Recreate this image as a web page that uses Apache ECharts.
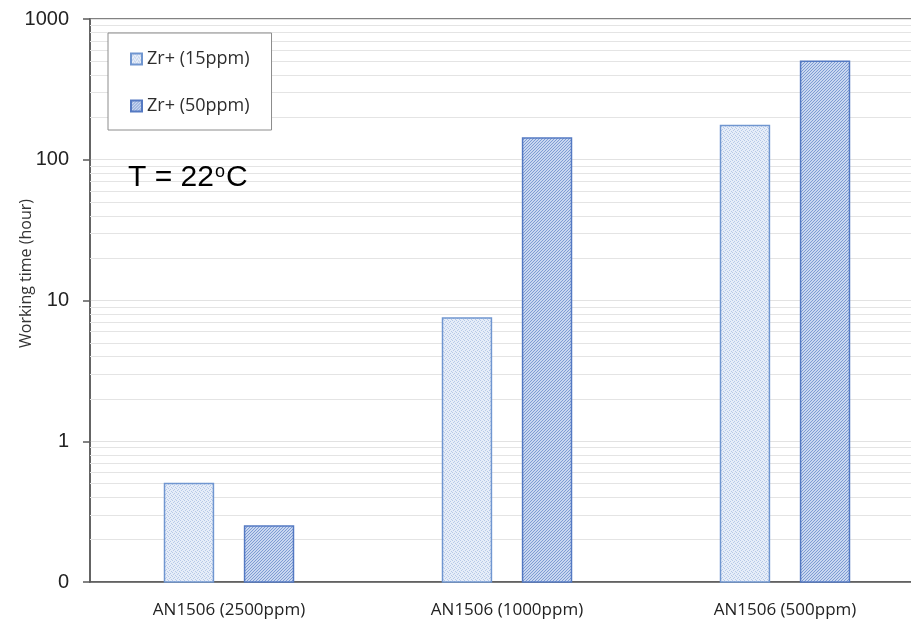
<!DOCTYPE html>
<html>
<head>
<meta charset="utf-8">
<script src="https://cdn.jsdelivr.net/npm/echarts@6/dist/echarts.min.js"></script>
<style>
html, body { margin: 0; padding: 0; background: #ffffff; }
#chart { width: 911px; height: 624px; }
</style>
</head>
<body>
<div id="chart"></div>
<script>
// Working time of each formulation, grouped by AN1506 level
const categories = ['AN1506 (2500ppm)', 'AN1506 (1000ppm)', 'AN1506 (500ppm)'];
const seriesNames = ['Zr+ (15ppm)', 'Zr+ (50ppm)'];
const zr15 = [0.5, 7.5, 175];
const zr50 = [0.25, 143, 500];
// Decade ticks of the log axis (the lowest one is printed as "0")
const yTicks = [0.1, 1, 10, 100, 1000];

// Minor grid lines at 2..9 within every decade
const minorLines = [];
yTicks.slice(0, -1).forEach(function (d) {
  for (let k = 2; k <= 9; k++) minorLines.push(d * k);
});

// Fill patterns for the two series
function speckle() {
  const c = document.createElement('canvas');
  c.width = 4; c.height = 4;
  const ctx = c.getContext('2d');
  ctx.fillStyle = '#e6edf8';
  ctx.fillRect(0, 0, 4, 4);
  ctx.fillStyle = '#b7c9e8';
  [[0, 0], [2, 1], [1, 2], [3, 3]].forEach(function (p) { ctx.fillRect(p[0], p[1], 1, 1); });
  return c;
}
function hatch() {
  const c = document.createElement('canvas');
  c.width = 3; c.height = 3;
  const ctx = c.getContext('2d');
  ctx.fillStyle = '#c9d7f0';
  ctx.fillRect(0, 0, 3, 3);
  ctx.fillStyle = '#7e9cd3';
  for (let i = 0; i < 3; i++) {
    ctx.fillRect(i, 2 - i, 1, 1);
  }
  return c;
}

const fill15 = { image: speckle(), repeat: 'repeat' };
const fill50 = { image: hatch(), repeat: 'repeat' };
const stroke15 = '#7096d0';
const stroke50 = '#5479c2';

// Bars rise from the bottom of the log axis; width and offset follow the category band
function barRenderer(side, fill, stroke) {
  return function (params, api) {
    const ci = api.value(0);
    const top = api.coord([ci, api.value(1)]);
    const base = api.coord([ci, yTicks[0]]);
    const band = api.size([1, 0])[0];
    const w = band * 0.176;
    const cx = top[0] + side * band * 0.144;
    return {
      type: 'rect',
      shape: { x: cx - w / 2, y: top[1], width: w, height: base[1] - top[1] },
      style: { fill: fill, stroke: stroke, lineWidth: 1.5 }
    };
  };
}

const labelFont = '"Open Sans", sans-serif';
const numFont = '"Liberation Sans", Arial, sans-serif';
const chart = echarts.init(document.getElementById('chart'));

chart.setOption({
  animation: false,
  grid: {
    left: 90, top: 19, width: 834, height: 563,
    outerBoundsMode: 'none',
    containLabel: false,
    show: true, borderColor: '#5a5a5a', borderWidth: 1.5,
    backgroundColor: 'transparent'
  },
  legend: {
    data: seriesNames,
    orient: 'vertical',
    left: 108, top: 33,
    itemWidth: 11, itemHeight: 11, itemGap: 29,
    padding: [17, 22, 15, 22],
    borderColor: '#8c8c8c', borderWidth: 1,
    backgroundColor: '#ffffff',
    icon: 'rect',
    textStyle: { fontFamily: labelFont, fontSize: 18, color: '#2e2e2e' }
  },
  xAxis: {
    type: 'category',
    data: categories,
    axisLine: { lineStyle: { color: '#5a5a5a', width: 1.5 } },
    axisTick: { show: false },
    axisLabel: { fontFamily: labelFont, fontSize: 17, color: '#222222', margin: 20 }
  },
  yAxis: {
    type: 'log',
    logBase: 10,
    min: yTicks[0],
    max: yTicks[yTicks.length - 1],
    name: 'Working time (hour)',
    nameLocation: 'middle',
    nameGap: 56,
    nameMoveOverlap: false,
    nameTextStyle: { fontFamily: labelFont, fontSize: 16, color: '#333333', padding: [0, 0, 0, 54] },
    axisLine: { show: true, lineStyle: { color: '#5a5a5a', width: 1.5 } },
    axisTick: { show: true, length: 7, lineStyle: { color: '#5a5a5a', width: 1.5 } },
    axisLabel: {
      fontFamily: numFont, fontSize: 20, color: '#222222', margin: 21,
      formatter: function (v) { return v < 1 ? '0' : String(Math.round(v)); }
    },
    splitLine: { show: true, lineStyle: { color: '#e2e2e2', width: 1 } }
  },
  graphic: [{
    type: 'text',
    left: 128, top: 161,
    style: {
      text: '{m|T = 22}{s|o}{m|C}',
      rich: {
        m: { fontFamily: numFont, fontSize: 30, fill: '#000000', lineHeight: 34 },
        s: { fontFamily: numFont, fontSize: 18, fill: '#000000', lineHeight: 34, verticalAlign: 'top', padding: [2, 1, 0, 1] }
      }
    },
    z: 10
  }],
  series: [
    {
      type: 'line',
      data: [],
      z: 1,
      silent: true,
      markLine: {
        z: 1,
        silent: true,
        symbol: 'none',
        label: { show: false },
        lineStyle: { color: '#e4e4e4', type: 'solid', width: 1 },
        data: minorLines.map(function (v) { return { yAxis: v }; })
      }
    },
    {
      name: seriesNames[0],
      type: 'custom',
      z: 3,
      encode: { x: 0, y: 1 },
      data: zr15.map(function (v, i) { return [i, v]; }),
      itemStyle: { color: fill15, borderColor: stroke15, borderWidth: 1.5 },
      renderItem: barRenderer(-1, fill15, stroke15)
    },
    {
      name: seriesNames[1],
      type: 'custom',
      z: 3,
      encode: { x: 0, y: 1 },
      data: zr50.map(function (v, i) { return [i, v]; }),
      itemStyle: { color: fill50, borderColor: stroke50, borderWidth: 1.5 },
      renderItem: barRenderer(1, fill50, stroke50)
    }
  ]
});
</script>
</body>
</html>
